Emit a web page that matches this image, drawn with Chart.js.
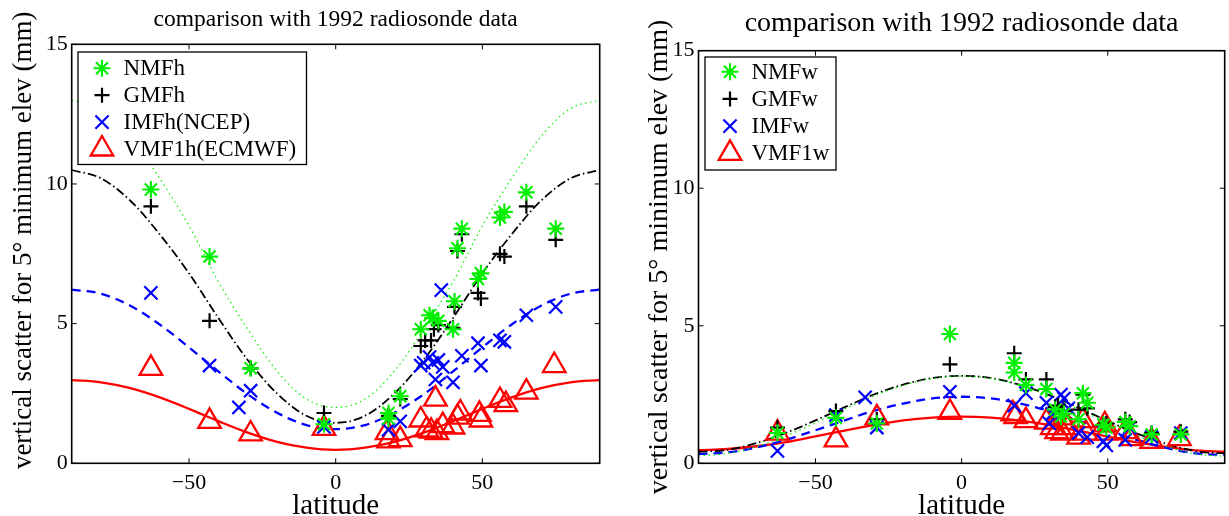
<!DOCTYPE html>
<html>
<head>
<meta charset="utf-8">
<script src="https://cdn.jsdelivr.net/npm/chart.js"></script>
<style>
  html, body { margin: 0; padding: 0; background: #fff; overflow: hidden; }
  #wrapH { position: absolute; left: 0; top: 0; }
  #wrapW { position: absolute; left: 620px; top: 0; }
</style>
</head>
<body>
<div id="wrapH"><canvas id="chartH" width="615" height="516"></canvas></div>
<div id="wrapW"><canvas id="chartW" width="620" height="516"></canvas></div>
<script>
// tick labels
const xTicks = [-50, 0, 50];
const yTicks = [0, 5, 10, 15];

const curveLat = [-90, -80, -70, -60, -50, -40, -30, -20, -10, 0, 10, 20, 30, 40, 50, 60, 70, 80, 90];

// hydrostatic, left panel: [latitude, scatter mm]
const NMFh = [[-63, 9.8], [-43, 7.4], [-29, 3.4], [-4, 1.4], [18, 1.8], [18, 1.6], [22, 2.4], [29, 4.8],
  [32, 5.3], [33, 5.2], [35, 5.1], [40, 4.8], [40.5, 5.8], [41.5, 7.7], [43, 8.4], [48.5, 6.6],
  [49.5, 6.8], [56, 8.8], [57.5, 9.0], [65, 9.7], [75, 8.4]];
const GMFh = [[-63, 9.2], [-43, 5.1], [-29, 3.4], [-4, 1.8], [18, 1.7], [22, 2.3], [29, 4.2], [30.5, 4.4],
  [32.5, 4.4], [33.5, 4.8], [35, 4.95], [40, 4.85], [40.5, 5.6], [41.5, 7.6], [43, 8.2], [48.5, 6.1],
  [49.5, 5.9], [56, 7.5], [57.5, 7.4], [65, 9.2], [75, 8.0]];
const IMFh = [[-63, 6.1], [-43, 3.5], [-33, 2.0], [-29, 2.6], [-4, 1.3], [18, 1.2], [22, 1.5], [29, 3.5],
  [30, 3.6], [32, 3.8], [33, 3.6], [34, 3.0], [35, 3.7], [36, 6.2], [36.5, 3.45], [40, 2.9], [43, 3.85],
  [48.5, 4.3], [49.5, 3.5], [56, 4.4], [57.5, 4.35], [65, 5.3], [75, 5.6]];
const VMF1h = [[-63, 3.4], [-43, 1.5], [-29, 1.05], [-4, 1.25], [17.5, 1.1], [18, 0.8], [22, 0.85], [29, 1.55],
  [31, 1.2], [32.5, 1.15], [34, 2.3], [34.5, 1.1], [36.5, 1.35], [40, 1.3], [41.5, 1.65], [42.5, 1.8],
  [49, 1.75], [49.5, 1.55], [56, 2.25], [58, 2.1], [65, 2.55], [74.5, 3.5]];

// hydrostatic model curves
const nmfhCurve = [13.0, 12.7, 11.7, 10.2, 8.5, 6.5, 4.8, 3.3, 2.3, 2.0, 2.3, 3.3, 4.8, 6.5, 8.5, 10.2, 11.7, 12.7, 13.0];
const gmfhCurve = [10.5, 10.2, 9.4, 8.2, 6.8, 5.2, 3.7, 2.5, 1.7, 1.45, 1.7, 2.5, 3.7, 5.2, 6.8, 8.2, 9.4, 10.2, 10.5];
const imfhCurve = [6.22, 6.07, 5.64, 4.97, 4.15, 3.29, 2.47, 1.81, 1.37, 1.22, 1.37, 1.81, 2.47, 3.29, 4.15, 4.97, 5.64, 6.07, 6.22];
const vmf1hCurve = [2.98, 2.9, 2.69, 2.36, 1.95, 1.51, 1.1, 0.77, 0.56, 0.48, 0.56, 0.77, 1.1, 1.51, 1.95, 2.36, 2.69, 2.9, 2.98];

// wet, right panel
const NMFw = [[-63, 1.1], [-43, 1.65], [-29, 1.45], [-4, 4.7], [18, 3.65], [18, 3.3], [22, 2.85], [29, 2.7],
  [32, 1.95], [34, 1.7], [35, 1.8], [40, 1.6], [41.5, 2.55], [43, 2.2], [48.5, 1.4], [49.5, 1.3],
  [56, 1.5], [57.5, 1.35], [65, 1.05], [75, 1.05]];
const GMFw = [[-63, 1.3], [-43, 1.9], [-29, 1.6], [-4, 3.6], [18, 4.0], [22, 3.05], [29, 3.05], [32, 2.05],
  [33, 2.1], [35, 1.9], [40, 1.95], [41.5, 2.5], [43, 2.0], [48.5, 1.4], [49.5, 1.45], [56, 1.6],
  [57.5, 1.5], [65, 1.1], [75, 1.15]];
const IMFw = [[-63, 0.45], [-43, 1.75], [-33, 2.4], [-29, 1.3], [-4, 2.6], [18, 2.1], [22, 2.55], [29, 2.2],
  [30, 1.45], [31, 1.8], [34, 2.5], [35, 2.35], [36.5, 2.0], [40, 1.1], [43, 0.95], [48.5, 0.8],
  [49.5, 0.65], [56, 0.85], [57.5, 1.3], [65, 0.95], [75, 1.1]];
const VMF1w = [[-63, 1.1], [-43, 0.85], [-29, 1.65], [-4, 1.85], [17.5, 1.8], [18.5, 1.7], [22, 1.55], [29, 1.5],
  [31, 1.3], [32.5, 1.15], [34, 1.65], [34.5, 1.1], [36.5, 1.3], [40, 0.95], [41.5, 1.55], [42.5, 1.1],
  [49, 1.4], [49.5, 1.1], [56, 1.15], [58, 0.9], [65, 0.8], [74.5, 0.9]];

// wet model curves
const nmfwCurve = [0.27, 0.36, 0.61, 1.0, 1.47, 1.97, 2.45, 2.83, 3.08, 3.17, 3.08, 2.83, 2.45, 1.97, 1.47, 1.0, 0.61, 0.34, 0.25];
const gmfwCurve = [0.42, 0.49, 0.74, 1.11, 1.56, 2.04, 2.5, 2.86, 3.1, 3.18, 3.1, 2.85, 2.48, 2.02, 1.54, 1.08, 0.71, 0.44, 0.36];
const imfwCurve = [0.34, 0.4, 0.58, 0.86, 1.2, 1.56, 1.91, 2.17, 2.36, 2.42, 2.36, 2.17, 1.9, 1.55, 1.19, 0.85, 0.56, 0.36, 0.3];
const vmf1wCurve = [0.48, 0.52, 0.62, 0.77, 0.98, 1.19, 1.39, 1.56, 1.66, 1.7, 1.66, 1.55, 1.39, 1.18, 0.97, 0.76, 0.6, 0.47, 0.42];

const serif = "'Liberation Serif', 'Times New Roman', serif";
const GREEN = '#00f000';
const BLUE = '#0000ff';
const RED = '#ff0000';
const BLACK = '#000000';

function markerSet(label, pts, style, color, radius, width) {
    return {
        label: label,
        isMarker: true,
        data: pts.map(p => ({ x: p[0], y: p[1] })),
        showLine: false,
        pointStyle: style,
        pointRadius: radius,
        pointHoverRadius: radius,
        pointBorderColor: color,
        pointBackgroundColor: 'rgba(0,0,0,0)',
        pointBorderWidth: width,
        borderColor: color,
        backgroundColor: 'rgba(0,0,0,0)',
    };
}

function curveSet(vals, color, dash, width) {
    return {
        label: '',
        data: curveLat.map((x, i) => ({ x: x, y: vals[i] })),
        showLine: true,
        pointRadius: 0,
        borderColor: color,
        borderWidth: width,
        borderDash: dash,
        cubicInterpolationMode: 'monotone',
        fill: false,
    };
}

// box, inward ticks and boxed legend in the MATLAB style
const frameLegend = {
    id: 'frameLegend',
    afterDraw(chart, args, opts) {
        const { ctx, chartArea: a, scales } = chart;
        ctx.save();
        ctx.setLineDash([]);
        ctx.strokeStyle = '#000';
        ctx.lineWidth = 1.6;
        ctx.strokeRect(a.left, a.top, a.right - a.left, a.bottom - a.top);
        ctx.beginPath();
        xTicks.forEach(v => {
            const px = scales.x.getPixelForValue(v);
            ctx.moveTo(px, a.bottom); ctx.lineTo(px, a.bottom - 5);
            ctx.moveTo(px, a.top); ctx.lineTo(px, a.top + 5);
        });
        yTicks.forEach(v => {
            const py = scales.y.getPixelForValue(v);
            ctx.moveTo(a.left, py); ctx.lineTo(a.left + 5, py);
            ctx.moveTo(a.right, py); ctx.lineTo(a.right - 5, py);
        });
        ctx.lineWidth = 1;
        ctx.stroke();

        const b = opts.box;
        ctx.fillStyle = '#fff';
        ctx.fillRect(b.x, b.y, b.w, b.h);
        ctx.strokeStyle = '#000';
        ctx.lineWidth = 1.3;
        ctx.strokeRect(b.x, b.y, b.w, b.h);
        chart.data.datasets.filter(d => d.isMarker).forEach((d, i) => {
            const y = b.y + b.first + i * b.step;
            ctx.strokeStyle = d.pointBorderColor;
            ctx.fillStyle = 'rgba(0,0,0,0)';
            ctx.lineWidth = d.pointBorderWidth;
            Chart.helpers.drawPoint(ctx, {
                pointStyle: d.pointStyle, rotation: 0,
                radius: d.pointRadius, borderWidth: d.pointBorderWidth,
            }, b.x + b.markX, y);
            ctx.fillStyle = '#000';
            ctx.font = '23px ' + serif;
            ctx.textAlign = 'left';
            ctx.textBaseline = 'middle';
            ctx.fillText(d.label, b.x + b.textX, y + 1);
        });
        ctx.restore();
    },
};

function makeOptions(cfg) {
    return {
        responsive: false,
        animation: false,
        events: [],
        layout: { padding: { left: 0, right: cfg.padRight, top: 0, bottom: 0 } },
        plugins: {
            legend: { display: false },
            tooltip: { enabled: false },
            title: {
                display: true,
                fullSize: false,
                text: 'comparison with 1992 radiosonde data',
                color: '#000',
                font: { family: serif, size: cfg.titleSize, weight: 'normal', lineHeight: 1.2 },
                padding: { top: cfg.titleTop, bottom: cfg.titleBottom },
            },
            frameLegend: { box: cfg.legendBox },
        },
        scales: {
            x: {
                type: 'linear',
                min: -90,
                max: 90,
                grid: { display: false, drawTicks: false },
                border: { display: false },
                afterBuildTicks: axis => { axis.ticks = xTicks.map(v => ({ value: v })); },
                afterFit: axis => { axis.height = 52.7; },
                ticks: {
                    padding: 7,
                    maxRotation: 0,
                    autoSkip: false,
                    color: '#000',
                    font: { family: serif, size: 22, lineHeight: 1.2 },
                    callback: v => String(v).replace('-', '\u2212'),
                },
                title: {
                    display: true,
                    text: 'latitude',
                    color: '#000',
                    font: { family: serif, size: 29, lineHeight: 0.6 },
                    padding: { top: 0, bottom: 1 },
                },
            },
            y: {
                type: 'linear',
                min: 0,
                max: 15,
                grid: { display: false, drawTicks: false },
                border: { display: false },
                afterBuildTicks: axis => { axis.ticks = yTicks.map(v => ({ value: v })); },
                afterFit: axis => { axis.width = cfg.yWidth; },
                ticks: {
                    padding: 4,
                    color: '#000',
                    font: { family: serif, size: 22, lineHeight: 1.2 },
                },
                title: {
                    display: true,
                    text: cfg.yTitle,
                    color: '#000',
                    font: { family: serif, size: cfg.yTitleSize, lineHeight: 1.2 },
                    padding: { top: cfg.yTitlePad, bottom: 0 },
                },
            },
        },
    };
}

const yLabel = 'vertical scatter for 5\u00b0 minimum elev (mm)';

const chartH = new Chart(document.getElementById('chartH').getContext('2d'), {
    type: 'scatter',
    data: {
        datasets: [
            markerSet('NMFh', NMFh, 'star', GREEN, 8.5, 2.1),
            markerSet('GMFh', GMFh, 'cross', BLACK, 7.5, 2.2),
            markerSet('IMFh(NCEP)', IMFh, 'crossRot', BLUE, 9.3, 2.2),
            markerSet('VMF1h(ECMWF)', VMF1h, 'triangle', RED, 13, 2.3),
            curveSet(nmfhCurve, GREEN, [1.5, 3.5], 1.2),
            curveSet(gmfhCurve, BLACK, [9, 3, 1.5, 3], 1.8),
            curveSet(imfhCurve, BLUE, [9, 6], 2.3),
            curveSet(vmf1hCurve, RED, [], 2.3),
        ],
    },
    options: makeOptions({
        padRight: 11.7, yWidth: 71.7, titleSize: 23.5, titleTop: 6, titleBottom: 10.1,
        yTitle: '    ' + yLabel, yTitleSize: 27, yTitlePad: 7.3,
        legendBox: { x: 78, y: 52, w: 228.5, h: 112.5, first: 16.3, step: 26.9, markX: 24, textX: 45.6 },
    }),
    plugins: [frameLegend],
});

const chartW = new Chart(document.getElementById('chartW').getContext('2d'), {
    type: 'scatter',
    data: {
        datasets: [
            markerSet('NMFw', NMFw, 'star', GREEN, 8.5, 2.1),
            markerSet('GMFw', GMFw, 'cross', BLACK, 7.5, 2.2),
            markerSet('IMFw', IMFw, 'crossRot', BLUE, 9.3, 2.2),
            markerSet('VMF1w', VMF1w, 'triangle', RED, 13, 2.3),
            curveSet(nmfwCurve, GREEN, [1.5, 3.5], 1.2),
            curveSet(gmfwCurve, BLACK, [9, 3, 1.5, 3], 1.8),
            curveSet(imfwCurve, BLUE, [9, 6], 2.3),
            curveSet(vmf1wCurve, RED, [], 2.3),
        ],
    },
    options: makeOptions({
        padRight: 9.5, yWidth: 78.5, titleSize: 28, titleTop: 6.4, titleBottom: 10.7,
        yTitle: yLabel, yTitleSize: 28, yTitlePad: 23,
        legendBox: { x: 85, y: 57, w: 131, h: 113, first: 14.7, step: 27.2, markX: 25, textX: 46.5 },
    }),
    plugins: [frameLegend],
});
</script>
</body>
</html>
